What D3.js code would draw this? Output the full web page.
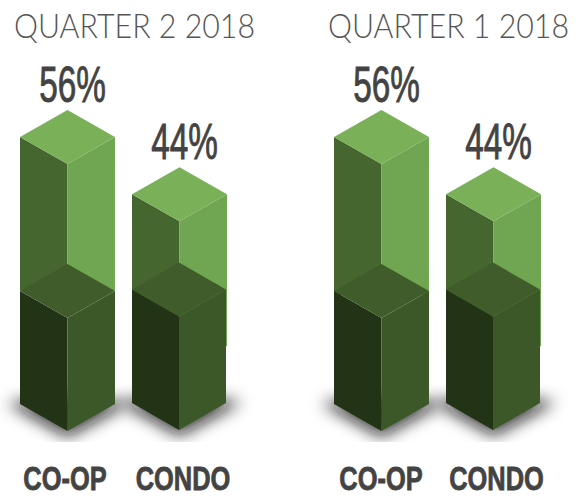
<!DOCTYPE html>
<html>
<head>
<meta charset="utf-8">
<script src="https://cdnjs.cloudflare.com/ajax/libs/d3/7.8.5/d3.min.js"></script>
<style>
  html, body { margin: 0; padding: 0; background: #fff; }
  svg { display: block; }
  .title { font-family: Lato, sans-serif; font-weight: 300; fill: #555; }
  .value { font-family: "Liberation Sans", sans-serif; fill: #434343; stroke: #434343; stroke-width: 0.9; }
  .cat { font-family: "Liberation Sans", sans-serif; font-weight: 700; fill: #434343; stroke: #434343; stroke-width: 0.8; }
</style>
</head>
<body>
<div id="chart"></div>
<script>
const width = 587, height = 496

const panels = ["QUARTER 2 2018", "QUARTER 1 2018"]
const categories = ["CO-OP", "CONDO"]
const q2Values = [56, 44]
const q1Values = [56, 44]
// height of the dark lower block
const darkValues = [23.7, 24]
// how far the light block carries on behind the dark one
const lightFloor = [[29.4, 17.8], [28.5, 17.8]]

const panelX = [0, 314]
const labelShift = [[-2.5, 3.5], [-0.5, 3]]
const faceDepth = 27

var svg = d3.select("#chart").append("svg")
  .attr("width", width)
  .attr("height", height)

var defs = svg.append("defs")
defs.append("filter").attr("id", "blur")
  .attr("x", "-30%").attr("y", "-100%").attr("width", "160%").attr("height", "300%")
  .append("feGaussianBlur").attr("stdDeviation", 8)
defs.append("clipPath").attr("id", "floor")
  .append("rect").attr("x", -10).attr("y", 0).attr("width", 330).attr("height", 442)

var x = d3.scaleBand().domain(categories).range([20, 227]).paddingInner(0.152)
var y = d3.scaleLinear().domain([0, 56]).range([431, 164])
var line = d3.line()

function drawTop(g, left, w, yFront, col) {
  let mid = left + w / 2, right = left + w
  g.append("path").attr("fill", col)
    .attr("d", line([[mid, yFront - 2 * faceDepth], [right, yFront - faceDepth], [mid, yFront], [left, yFront - faceDepth]]) + "Z")
}

// the light block ends flat behind the dark one, so it gets a straight bottom
function drawLight(g, left, w, yFront, yFloor) {
  let mid = left + w / 2, right = left + w
  g.append("path").attr("fill", "#45672f")
    .attr("d", line([[left, yFront - faceDepth], [mid, yFront], [mid, yFloor], [left, yFloor]]) + "Z")
  g.append("path").attr("fill", "#70a651")
    .attr("d", line([[mid, yFront], [right, yFront - faceDepth], [right, yFloor], [mid, yFloor]]) + "Z")
  drawTop(g, left, w, yFront, "#7ab058")
}

function drawDark(g, left, w, yFront, yBase) {
  let mid = left + w / 2, right = left + w
  g.append("path").attr("fill", "#233416")
    .attr("d", line([[left, yFront - faceDepth], [mid, yFront], [mid, yBase], [left, yBase - faceDepth]]) + "Z")
  g.append("path").attr("fill", "#3c5828")
    .attr("d", line([[mid, yFront], [right, yFront - faceDepth], [right, yBase - faceDepth], [mid, yBase]]) + "Z")
  drawTop(g, left, w, yFront, "#3f5c2a")
}

function drawPanel(i, values) {
  let g = svg.append("g").attr("transform", `translate(${panelX[i]},0)`)

  g.append("text")
    .attr("class", "title")
    .attr("transform", "translate(14,38) scale(1,1.06)")
    .attr("font-size", 31)
    .attr("textLength", 241)
    .attr("lengthAdjust", "spacingAndGlyphs")
    .text(panels[i])

  // soft shadow under both bars, cut off flat at the bottom like the original
  let shadow = g.append("g").attr("clip-path", "url(#floor)")
  categories.forEach((c, j) => {
    let left = x(c), w = x.bandwidth(), mid = left + w / 2, base = y(0) - j
    shadow.append("path")
      .attr("filter", "url(#blur)")
      .attr("fill", "#111")
      .attr("fill-opacity", 0.8)
      .attr("d", line([
        [left - 13, base - faceDepth - 1], [mid, base + 6],
        [left + w + 15, base - faceDepth - 1], [mid, base - 36]
      ]) + "Z")
  })

  categories.forEach((c, j) => {
    let left = x(c), w = x.bandwidth()

    drawLight(g, left, w, y(values[j]), y(lightFloor[i][j]))
    drawDark(g, left, w - j, y(darkValues[j]), y(0) - j)

    g.append("text")
      .attr("class", "value")
      .attr("text-anchor", "middle")
      .attr("transform", `translate(${left + w / 2 + 5},${y(values[j]) - 2 * faceDepth - 8.5}) scale(0.68,1)`)
      .attr("font-size", 49)
      .text(values[j] + "%")

    g.append("text")
      .attr("class", "cat")
      .attr("text-anchor", "middle")
      .attr("transform", `translate(${left + w / 2 + labelShift[i][j]},490) scale(0.77,1)`)
      .attr("font-size", 33)
      .text(c)
  })
}

drawPanel(0, q2Values)
drawPanel(1, q1Values)
</script>
</body>
</html>
